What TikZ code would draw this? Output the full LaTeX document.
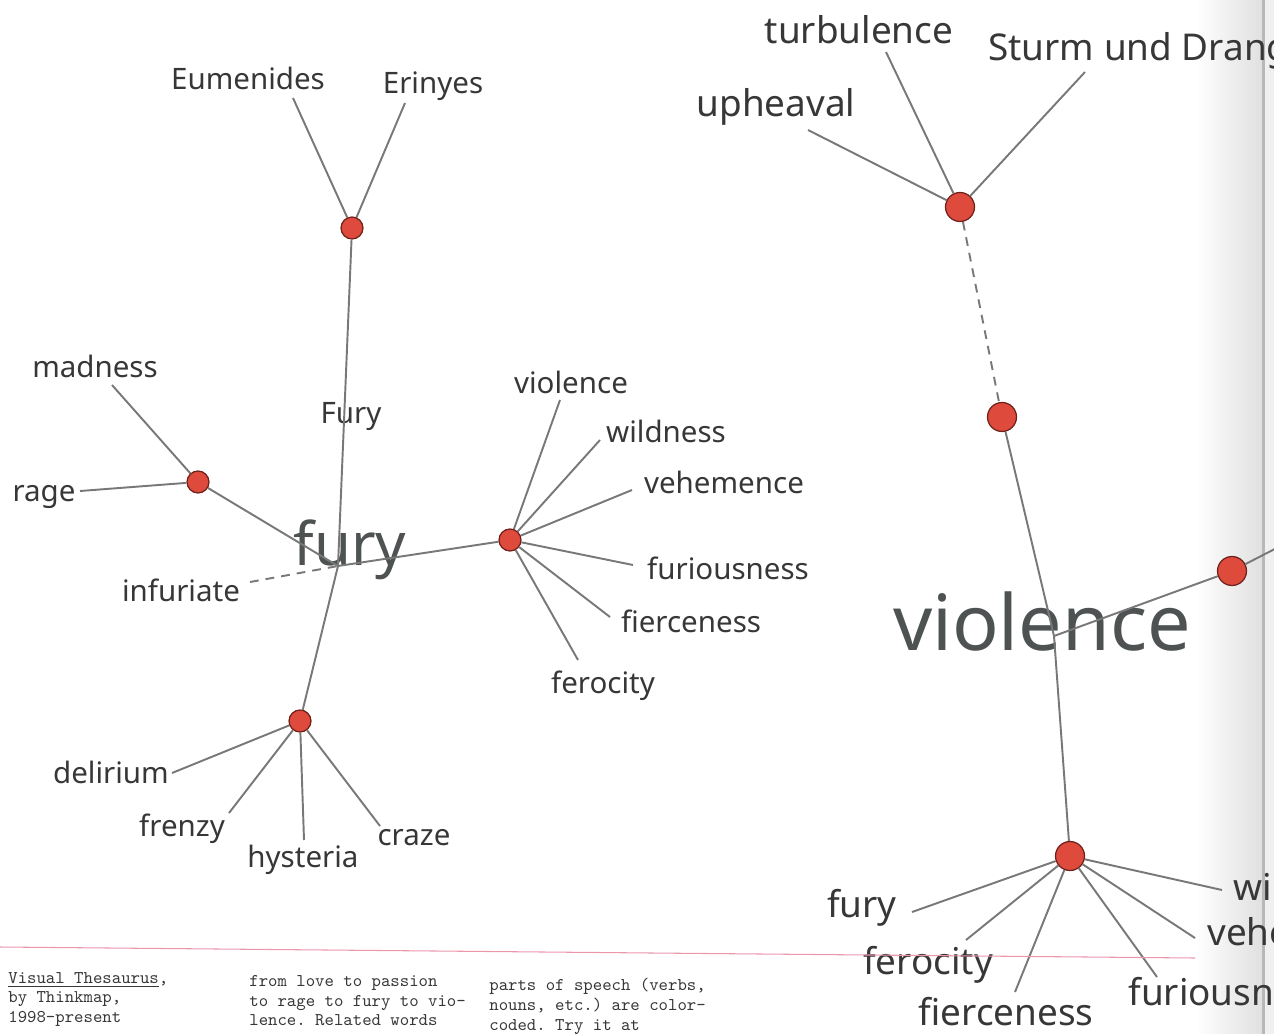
\documentclass[tikz,border=0pt]{standalone}
\usepackage{fontspec}
\setmainfont{Noto Sans}
\setmonofont{Latin Modern Mono}
\definecolor{hubred}{RGB}{222, 74, 60}
\definecolor{hubedge}{RGB}{110, 32, 26}
\definecolor{linegray}{RGB}{120, 120, 120}
\definecolor{wordgray}{RGB}{55, 55, 55}
\definecolor{biggray}{RGB}{78, 82, 82}
\definecolor{rulepink}{RGB}{236, 150, 172}
\definecolor{printgray}{RGB}{55, 55, 55}

\tikzset{
    hub/.style={circle, fill=hubred, draw=hubedge, line width=0.7pt, inner sep=0pt, minimum size=0.44cm},
    bighub/.style={hub, minimum size=0.58cm},
    link/.style={draw=linegray, line width=1.1pt},
    weaklink/.style={link, dash pattern=on 5pt off 4pt},
    word/.style={text=wordgray, inner sep=0pt, text height=0.72em, text depth=0.22em, yshift=-0.12cm, font=\fontsize{16.8}{20}\selectfont},
    wideword/.style={word, yshift=-0.05cm, font=\fontsize{21}{24}\selectfont},
    headword/.style={text=biggray, inner sep=0pt, font=\fontsize{34}{40}\selectfont},
    note/.style={anchor=north west, align=left, inner sep=0pt, text=printgray, font=\ttfamily\fontsize{10.2}{11.2}\selectfont}
}

\begin{document}
\begin{tikzpicture}[x=0.02cm, y=-0.02cm]
    \useasboundingbox (0,0) rectangle (1274,1034);
    \clip (0,0) rectangle (1274,1034);

    % gutter of the page
    \shade[left color=white, right color=black!12] (1195,0) rectangle (1262,1034);
    \fill[black!28] (1262,0) rectangle (1265,1034);
    \fill[black!6] (1265,0) rectangle (1274,1034);

    % head words
    \node[headword] (fury) at (350,550) {fury};
    \node[headword, font=\fontsize{44}{50}\selectfont] (violence) at (1042,622) {violence};
    \coordinate (furyjoin) at (338,566);
    \coordinate (violencejoin) at (1054,636);

    % hubs of the fury cluster
    \node[hub] (furyhub) at (352,228) {};
    \node[hub] (madhub) at (198,482) {};
    \node[hub] (violhub) at (510,540) {};
    \node[hub] (delhub) at (300,721) {};

    % hubs of the violence cluster
    \node[bighub] (turbhub) at (960,207) {};
    \node[bighub] (uphub) at (1002,417) {};
    \node[bighub] (sidehub) at (1232,571) {};
    \node[bighub] (wildhub) at (1070,856) {};
    \coordinate (sideexit) at (1300,536);

    % labels round the fury cluster
    \foreach \hubname/\tag/\lx/\ly/\ex/\ey/\txt in {
        furyhub/eum/248/79/293/98/Eumenides,
        furyhub/eri/433/83/405/103/Erinyes,
        madhub/mad/95/367/112/385/madness,
        madhub/rag/44/491/80/491/rage,
        violhub/vio/571/383/560/400/violence,
        violhub/wil/666/432/600/440/wildness,
        violhub/veh/724/483/632/490/vehemence,
        violhub/fur/728/569/633/565/furiousness,
        violhub/fie/691/622/610/617/fierceness,
        violhub/fer/603/683/578/660/ferocity,
        delhub/del/111/773/172/773/delirium,
        delhub/fre/182/826/229/813/frenzy,
        delhub/hys/303/857/304/840/hysteria,
        delhub/cra/414/835/380/826/craze}{
        \node[word] (\tag) at (\lx,\ly) {\txt};
        \coordinate (\tag-tip) at (\ex,\ey);
        \draw[link] (\hubname) -- (\tag-tip);
    }
    \node[word] (inf) at (181,591) {infuriate};
    \coordinate (inf-tip) at (250,582);
    \node[word] (Fury) at (351,413) {Fury};

    % labels round the violence cluster
    \foreach \hubname/\tag/\anc/\lx/\ly/\ex/\ey/\txt in {
        turbhub/uph/center/776/104/808/130/upheaval,
        turbhub/tur/center/859/31/886/52/turbulence,
        turbhub/stu/west/988/48/1085/72/Sturm und Drang,
        wildhub/fury2/center/862/905/912/912/fury,
        wildhub/fer2/center/928/962/966/940/ferocity,
        wildhub/fie2/center/1006/1013/1015/992/fierceness,
        wildhub/fur2/west/1128/993/1157/977/furiousness,
        wildhub/veh2/west/1207/933/1195/938/vehemence,
        wildhub/wil2/west/1233/888/1222/890/wildness}{
        \node[wideword, anchor=\anc] (\tag) at (\lx,\ly) {\txt};
        \coordinate (\tag-tip) at (\ex,\ey);
        \draw[link] (\hubname) -- (\tag-tip);
    }

    % trunk lines
    \draw[link] (furyhub) -- (furyjoin) -- (delhub);
    \draw[link] (madhub) -- (furyjoin) -- (violhub);
    \draw[weaklink] (inf-tip) -- (furyjoin);
    \draw[weaklink] (turbhub) -- (uphub);
    \draw[link] (uphub) -- (violencejoin) -- (wildhub);
    \draw[link] (violencejoin) -- (sidehub) -- (sideexit);

    % page rule and notes
    \draw[rulepink, line width=0.6pt] (0,947) -- (1195,958);
    \node[note] (note1) at (8,972) {\underline{Visual Thesaurus},\\by Thinkmap,\\1998-present};
    \node[note] (note2) at (249,975) {from love to passion\\to rage to fury to vio-\\lence. Related words};
    \node[note] (note3) at (489,978) {parts of speech (verbs,\\nouns, etc.) are color-\\coded. Try it at};
\end{tikzpicture}
\end{document}
